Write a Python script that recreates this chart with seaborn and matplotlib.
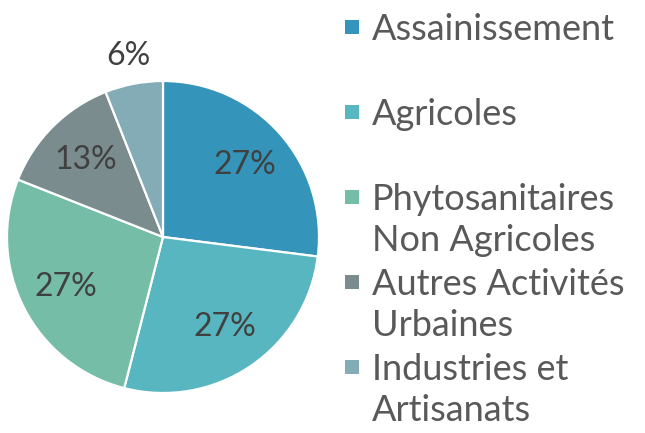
import numpy as np
import matplotlib
matplotlib.use("Agg")
import matplotlib.pyplot as plt
import matplotlib.patches as mpatches
import seaborn as sns

# Data
categories = ["Assainissement", "Agricoles", "Phytosanitaires\nNon Agricoles",
              "Autres Activités\nUrbaines", "Industries et\nArtisanats"]
shares = [27, 27, 27, 13, 6]
colors = ["#3494BA", "#58B6C0", "#75BDA7", "#7A8C8E", "#84ACB6"]

sns.set_theme(style="white")
plt.rcParams['font.family'] = ['Lato', 'DejaVu Sans']

fig = plt.figure(figsize=(6.45, 4.33), dpi=100)
W, H = 645, 433
cx, cy, r = 163, 237, 156
ax = fig.add_axes([(cx - r) / W, (H - cy - r) / H, 2 * r / W, 2 * r / H])

wedges, texts, autotexts = ax.pie(
    shares, colors=sns.color_palette(colors), startangle=90, counterclock=False,
    autopct='%.0f%%', pctdistance=0.7,
    wedgeprops=dict(edgecolor='white', linewidth=1.6),
    textprops=dict(color='#404040', fontsize=23))
ax.set_xlim(-1, 1)
ax.set_ylim(-1, 1)
ax.set_aspect('equal')

# small slice: label outside
w = wedges[-1]
mid = np.deg2rad((w.theta1 + w.theta2) / 2)
autotexts[-1].set_position((1.18 * np.cos(mid), 1.18 * np.sin(mid)))

# legend drawn as a column of fixed slots
x_box, x_txt = 345, 372
top, slot, box = 13, 85, 14
for i, (lab, col) in enumerate(zip(categories, colors)):
    y0 = top + i * slot
    fig.patches.append(mpatches.Rectangle(
        (x_box / W, 1 - (y0 + 21) / H), box / W, box / H,
        transform=fig.transFigure, facecolor=col, edgecolor='none'))
    fig.text(x_txt / W, 1 - y0 / H, lab, ha='left', va='top',
             fontsize=26, color='#595959', linespacing=1.3)

fig.savefig("out.png", dpi=100)
